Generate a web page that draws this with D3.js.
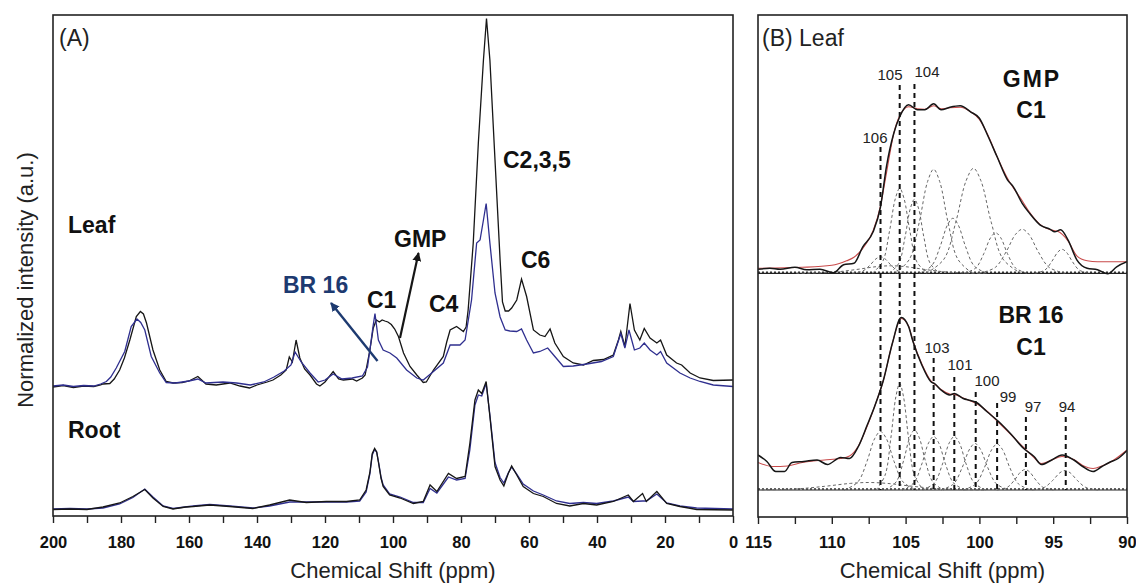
<!DOCTYPE html>
<html><head><meta charset="utf-8">
<script src="https://cdn.jsdelivr.net/npm/d3@7"></script>
<style>
body{margin:0;background:#fff;}
svg{display:block;font-family:"Liberation Sans",Arial,Helvetica,sans-serif;}
</style></head><body>
<svg id="chart" width="1136" height="584"></svg>
<script>
// ---------------- DATA ----------------
// Panel A: [ppm, intensity above own baseline]
const leafGMP = [[200,0],[197,0.3],[194,-0.1],[191,0.2],[188,0.1],[186,0.4],[185.3,0.6],[183.3,0.7],[182,1.6],[180.4,3.4],[179,5.8],[177.4,9.4],[175.5,14.1],[174.3,15.1],[173.4,14.6],[172.5,12.8],[170.6,7.4],[168.6,3.4],[166.7,1.1],[164.7,0.8],[162,0.9],[160,1.2],[157.4,2.1],[155,0.6],[152,0.4],[148,0.8],[145,0.2],[142.2,-0.2],[140,0.4],[137,1.0],[135.3,1.4],[133,2.4],[131.4,3.4],[130.5,6.0],[129.6,5.0],[128.5,9.4],[127.4,5.8],[126,3.6],[124.4,2.4],[122.5,0.6],[121.5,0.2],[120,1.0],[117.6,3.1],[116,1.6],[114.6,1.4],[112,1.6],[110.7,1.2],[109,1.8],[108.2,2.4],[106.8,7.4],[105.8,11.8],[104.9,13.4],[104,13.0],[103.2,13.4],[102.4,13.2],[101.5,13.0],[100.5,12.5],[99.5,11.6],[98.4,10.1],[96.9,6.8],[95,4.1],[93,2.4],[91.1,0.9],[90.2,1.0],[89.5,1.8],[88.1,3.4],[85.2,6.1],[84.2,9.0],[83.2,11.4],[81.3,12.1],[79.3,11.1],[78.5,12.0],[77.9,15.4],[76.4,28.8],[74.9,48.8],[73.4,65.4],[72.5,73.7],[71.5,65.4],[70,45.4],[68.5,25.4],[67.8,17],[67,15.2],[66,15.2],[65.1,15.8],[63.6,17.4],[62.2,21.6],[60.7,18.1],[58.7,11.4],[56.8,10.4],[55.3,10.1],[53.8,11.6],[52.4,8.8],[49.9,6.1],[47,4.8],[44,4.4],[41.1,5.3],[38.1,5.5],[35.2,6.4],[33.7,9.4],[33,11.1],[31.8,8.1],[30.3,16.7],[29,11.4],[27.4,9.4],[26.1,11.7],[24.4,9.8],[22.4,8.8],[21.3,9.4],[19.5,6.4],[16.6,4.8],[15.1,4.4],[12.6,2.8],[9.7,1.8],[5.8,1.3],[0,1.4]];
const leafBR16 = [[200,0.2],[197,0.4],[194,0.1],[191,0.3],[188,0.2],[186,0.6],[184.3,1.1],[183,2.0],[181.4,3.8],[178.9,7.1],[177,12.1],[175.3,13.6],[174.2,12.9],[173,11.4],[171.1,6.1],[168.6,2.8],[166.7,0.9],[164,0.8],[160,1.2],[157.4,1.6],[155,0.8],[150,1.0],[146,0.8],[142,0.4],[138,1.0],[135,2.0],[132,3.2],[130,4.4],[128.8,7.0],[127,5.0],[124.4,2.8],[122,1.0],[120,1.4],[117.6,2.6],[115,1.6],[112,1.8],[109,2.2],[107.5,4.0],[106.8,7.4],[105.9,12],[105.3,14.7],[104.3,9.4],[102.9,7.4],[100.9,6.8],[98.9,5.8],[96,3.4],[93,1.8],[91.1,1.4],[88.1,3.1],[85.2,4.8],[83.2,8.4],[80.3,8.4],[78.8,9.4],[76.9,17.4],[75.4,28.8],[74.4,29.4],[73.4,33.4],[72.6,36.7],[71.5,28.8],[70,18.8],[68.5,14],[67,11.4],[65.6,11.2],[63.6,11.1],[62.2,11.6],[60.7,9.4],[58.7,6.8],[56.8,7.1],[54.5,7.8],[52.4,6.1],[49.9,4.1],[47,4.2],[43,4.6],[38.7,5.1],[35.2,6.1],[33,10.7],[31.8,7.8],[30.6,11.4],[29,7.4],[27.4,7.8],[26.1,8.8],[24.4,7.4],[22.4,6.4],[21.3,7.1],[19.5,4.8],[15.6,2.8],[12.6,1.8],[9.7,1.1],[5.8,0.4],[0,0.1]];
const rootGMP = [[200,0.1],[195,0.2],[190,0.1],[185.3,0.6],[180.4,1.4],[176.5,2.7],[173,4.1],[170.6,2.4],[167.6,0.7],[164.7,0.2],[161,0.6],[158.8,0.7],[153.9,1.0],[148,0.7],[141.2,0.3],[136.3,1.0],[130.4,2.0],[125.5,1.5],[119.6,1.7],[113.7,1.7],[109.8,2.0],[107.9,4.0],[106.8,7.5],[106.1,11.3],[105.4,12.3],[104.8,11.6],[104.2,9.2],[103.5,6.3],[102.9,4.7],[101,3.0],[97.9,2.4],[94,1.3],[91.1,1.7],[89.1,5.0],[87.1,3.7],[83.7,7.3],[81.3,6.3],[78.8,6.7],[77.4,13.3],[75.9,22],[74.9,24],[73.9,23.3],[72.6,25.7],[71.5,18.7],[70,8.7],[68.5,6.0],[67.4,4.8],[66.1,7.3],[65.1,8.8],[63.6,7.0],[61.7,4.7],[58.7,3.3],[55.8,2.7],[51.9,1.3],[48,0.8],[44,1.3],[40.1,1.0],[35.2,1.7],[30.8,3.0],[29.3,1.7],[26.6,3.3],[25.5,1.7],[22.4,3.7],[19.5,1.3],[15.6,0.7],[10.7,0.1],[0,0]];
const rootBR16 = [[200,0.2],[195,0.3],[190,0.2],[185.3,0.4],[180.4,1.2],[176.5,2.5],[173,4.2],[170.6,2.6],[167.6,0.8],[164.7,0.3],[158.8,0.8],[153.9,1.1],[148,0.8],[141.2,0.4],[136.3,0.8],[130.4,1.6],[125.5,1.6],[119.6,1.6],[113.7,1.6],[109.8,1.8],[107.9,3.6],[106.8,7.2],[106.1,11.0],[105.4,12.1],[104.8,11.6],[104.2,9.4],[103.5,6.5],[102.9,5.0],[101,3.2],[97.9,2.6],[94,1.5],[91.1,1.5],[89.1,4.3],[87.1,3.4],[83.7,6.6],[81.3,6.0],[78.8,6.3],[77.4,12],[75.9,21],[74.9,23],[73.9,22.8],[72.6,25.3],[71.5,19],[70,9.5],[68.5,6.5],[67.4,5.4],[66.1,7.4],[65.1,8.6],[63.6,7.2],[61.7,5.2],[58.7,3.8],[55.8,3.0],[51.9,1.8],[48,1.3],[44,1.5],[40.1,1.3],[35.2,1.8],[30.8,2.6],[29.3,1.7],[26.6,1.8],[25.5,1.8],[22.4,3.2],[19.5,1.4],[15.6,0.8],[10.7,0.4],[0,0.2]];

// Panel B: C1 region, [ppm, intensity above sub-panel baseline]
const gmpC1Exp = [[115,0.8],[114.2,1.0],[113.5,0.8],[112.5,1.2],[111.7,0.7],[110.8,0.8],[109.9,0.1],[109.2,1.7],[108.5,2.0],[107.9,5.3],[107.2,8.3],[106.7,13.3],[106.3,21.3],[105.8,28],[105.4,31.3],[104.8,33.7],[104.2,32.7],[103.7,32.7],[103.1,33.9],[102.6,32.7],[102,33.2],[101.3,33.5],[100.6,32.3],[100,31],[99.4,27.3],[98.8,23.3],[98.1,18.7],[97.7,17.3],[97.1,14],[96.6,12],[95.9,9.7],[95.2,8.8],[94.9,8.3],[94.5,8.7],[94,6.7],[93.4,2.7],[92.7,1.0],[92,0.7],[91.3,-0.1],[90.7,1.3],[90,2.3]];
const gmpC1Fit = [[115,1.0],[112,1.2],[110,1.6],[109,2.5],[108.5,3.2],[107.9,5],[107.2,8.5],[106.7,13.5],[106.3,20],[105.8,28],[105.4,31.5],[104.8,33.3],[104.2,32.9],[103.7,32.8],[103.1,33.5],[102.6,32.9],[102,33.1],[101.3,33.2],[100.6,32.3],[100,30.8],[99.4,27.5],[98.8,23.3],[98.1,19],[97.1,14.5],[96.6,12.2],[95.9,9.8],[95.2,8.7],[94.7,8.4],[94,6.5],[93.4,3.5],[92.7,2.5],[92,2.3],[90,2.3]];
const gmpC1Components = [
  [[108.62,107.9,107.42,107.0,106.7,106.4,105.98,105.5,104.78],[0,0.45,1.61,2.91,3.3,2.91,1.61,0.45,0]],
  [[107.26,106.56,106.1,105.69,105.4,105.11,104.7,104.24,103.54],[0,2.3,8.28,15.0,17,15.0,8.28,2.3,0]],
  [[106.1,105.46,105.04,104.67,104.4,104.13,103.76,103.34,102.7],[0,2.0,7.21,13.05,14.8,13.05,7.21,2.0,0]],
  [[105.72,104.74,104.08,103.51,103.1,102.69,102.12,101.46,100.48],[0,2.81,10.13,18.35,20.8,18.35,10.13,2.81,0]],
  [[104.1,103.24,102.66,102.16,101.8,101.44,100.94,100.36,99.5],[0,1.49,5.36,9.7,11,9.7,5.36,1.49,0]],
  [[103.6,102.4,101.6,100.9,100.4,99.9,99.2,98.4,97.2],[0,2.84,10.23,18.52,21,18.52,10.23,2.84,0]],
  [[101.04,100.24,99.7,99.24,98.9,98.56,98.1,97.56,96.76],[0,1.09,3.94,7.14,8.1,7.14,3.94,1.09,0]],
  [[100.01,98.92,98.19,97.56,97.1,96.64,96.01,95.28,94.19],[0,1.19,4.29,7.76,8.8,7.76,4.29,1.19,0]],
  [[96.26,95.56,95.1,94.69,94.4,94.11,93.7,93.24,92.54],[0,0.65,2.34,4.23,4.8,4.23,2.34,0.65,0]],
  [[112.4,110,108.4,107,106,105,103.6,102,99.6],[0,0.2,0.73,1.32,1.5,1.32,0.73,0.2,0]]
];
const br16C1Exp = [[115,7],[114.4,5.7],[113.8,3.7],[113.2,3.7],[112.7,5.5],[111.9,5.7],[111,6],[110.3,5.1],[109.4,6.5],[108.8,6.3],[108.2,8.7],[107.6,13],[107.1,16.7],[106.5,22],[105.9,29.3],[105.3,34.5],[104.8,32.7],[104.5,29.7],[103.9,25],[103.3,21.7],[103,21.2],[102.6,20],[102,19],[101.7,19.3],[101.1,18.3],[100.6,17.9],[100.2,17.5],[99.5,15.7],[98.7,13.7],[97.9,11.3],[97,8.3],[96.3,6.7],[95.8,5.1],[95.1,6],[94.4,7],[93.6,6],[93,4.7],[92.3,3.7],[91.7,4.7],[91.2,5.5],[90.6,6.3],[90,7.9]];
const br16C1Fit = [[115,5.5],[114,4.7],[113,4.8],[112,5.5],[110.5,6.0],[109.4,6.3],[108.8,6.8],[108.2,8.8],[107.6,12.8],[107.1,16.7],[106.5,22],[105.9,29.3],[105.3,34.3],[104.8,32.8],[104.5,29.8],[103.9,25.2],[103.3,21.9],[103,21.1],[102.6,20.1],[102,19.2],[101.7,19.1],[101.1,18.4],[100.6,17.8],[100.2,17.3],[99.5,15.8],[98.7,13.5],[97.9,11.2],[97,8.5],[96.3,6.5],[95.8,5.3],[95.1,6.0],[94.4,6.7],[93.6,6.1],[93,4.9],[92.3,4.3],[91.7,4.8],[91,5.8],[90,8.0]];
const br16C1Components = [
  [[109.16,108.24,107.62,107.09,106.7,106.31,105.78,105.16,104.24],[0,1.58,5.7,10.32,11.7,10.32,5.7,1.58,0]],
  [[107.0,106.4,106.0,105.65,105.4,105.15,104.8,104.4,103.8],[0,2.88,10.37,18.79,21.3,18.79,10.37,2.88,0]],
  [[106.38,105.64,105.14,104.71,104.4,104.09,103.66,103.16,102.42],[0,1.62,5.84,10.58,12,10.58,5.84,1.62,0]],
  [[105.24,104.44,103.9,103.44,103.1,102.76,102.3,101.76,100.96],[0,1.44,5.21,9.44,10.7,9.44,5.21,1.44,0]],
  [[103.84,103.04,102.5,102.04,101.7,101.36,100.9,100.36,99.56],[0,1.44,5.21,9.44,10.7,9.44,5.21,1.44,0]],
  [[102.6,101.74,101.16,100.66,100.3,99.94,99.44,98.86,98.0],[0,1.26,4.53,8.2,9.3,8.2,4.53,1.26,0]],
  [[101.1,100.24,99.66,99.16,98.8,98.44,97.94,97.36,96.5],[0,1.24,4.48,8.11,9.2,8.11,4.48,1.24,0]],
  [[98.82,98.1,97.62,97.2,96.9,96.6,96.18,95.7,94.98],[0,0.55,2.0,3.62,4.1,3.62,2.0,0.55,0]],
  [[96.44,95.6,95.04,94.55,94.2,93.85,93.36,92.8,91.96],[0,0.53,1.9,3.44,3.9,3.44,1.9,0.53,0]],
  [[115.5,112.5,110.5,108.75,107.5,106.25,104.5,102.5,99.5],[0,0.2,0.73,1.32,1.5,1.32,0.73,0.2,0]]
];
// marker positions (ppm) and their labels
const gmpMarkers = [106.7, 105.4, 104.4];
const gmpMarkerLabels = ["106", "105", "104"];
const br16Markers = [103.1, 101.7, 100.25, 98.8, 96.85, 94.15];
const br16MarkerLabels = ["103", "101", "100", "99", "97", "94"];
// axis ticks
const ticksA = d3.range(0, 201, 10);
const labelsA = [0, 20, 40, 60, 80, 100, 120, 140, 160, 180, 200];
const ticksB = d3.range(90, 115.01, 2.5);
const labelsB = [90, 95, 100, 105, 110, 115];

// ---------------- LAYOUT ----------------
const svg = d3.select("#chart");
const FONT = '"Liberation Sans",Arial,Helvetica,sans-serif';
const BLACK = "#161616", BLUE = "#2f2f8f", NAVY = "#1d3a70", RED = "#c84a4a";

const A = {l: 53, r: 733, t: 15, b: 516};
const B = {l: 758, r: 1127, t: 15, b: 517};

const xA = d3.scaleLinear().domain([200, 0]).range([A.l, A.r]);
const yA = d3.scaleLinear().domain([0, 100]).range([516, 16]);
const xB = d3.scaleLinear().domain([115, 90]).range([B.l, B.r]);
const yB = d3.scaleLinear().domain([0, 100]).range([517, 17]);

const leafOffset = 25.8, rootOffset = 1.2;
const topOffset = 48.74, botOffset = 5.4;

const defs = svg.append("defs");
defs.append("clipPath").attr("id", "clipA").append("rect")
  .attr("x", A.l).attr("y", A.t).attr("width", A.r - A.l).attr("height", A.b - A.t);
defs.append("clipPath").attr("id", "clipB").append("rect")
  .attr("x", B.l).attr("y", B.t).attr("width", B.r - B.l).attr("height", B.b - B.t);
function marker(id, color) {
  defs.append("marker").attr("id", id).attr("viewBox", "0 0 10 10")
    .attr("refX", 9).attr("refY", 5).attr("markerWidth", 9).attr("markerHeight", 9)
    .attr("markerUnits", "userSpaceOnUse").attr("orient", "auto")
    .append("path").attr("d", "M0,0 L10,5 L0,10 z").attr("fill", color);
}
marker("arrBlack", BLACK);
marker("arrNavy", NAVY);

// ---------------- PANEL A ----------------
const gA = svg.append("g").attr("clip-path", "url(#clipA)");
function lineA(off) {
  return d3.line().x(d => xA(d[0])).y(d => yA(d[1] + off)).curve(d3.curveLinear);
}
gA.append("path").datum(rootBR16).attr("d", lineA(rootOffset)).attr("fill", "none").attr("stroke", BLUE).attr("stroke-width", 1.3);
gA.append("path").datum(rootGMP).attr("d", lineA(rootOffset)).attr("fill", "none").attr("stroke", BLACK).attr("stroke-width", 1.3);
gA.append("path").datum(leafGMP).attr("d", lineA(leafOffset)).attr("fill", "none").attr("stroke", BLACK).attr("stroke-width", 1.3);
gA.append("path").datum(leafBR16).attr("d", lineA(leafOffset)).attr("fill", "none").attr("stroke", BLUE).attr("stroke-width", 1.3);

svg.append("rect").attr("x", A.l).attr("y", A.t).attr("width", A.r - A.l).attr("height", A.b - A.t)
  .attr("fill", "none").attr("stroke", "#222").attr("stroke-width", 1.6);

const axA = svg.append("g").attr("transform", `translate(0,${A.b})`)
  .call(d3.axisBottom(xA).tickValues(ticksA).tickSize(7).tickPadding(13)
    .tickFormat(d => labelsA.includes(d) ? d : ""));
axA.select(".domain").remove();
axA.selectAll(".tick line").attr("stroke", "#222").attr("stroke-width", 1.4);
axA.selectAll("text").attr("font-family", FONT).attr("font-size", 16.5).attr("font-weight", "bold").attr("fill", "#111");

svg.append("text").attr("x", (A.l + A.r) / 2).attr("y", 578).attr("text-anchor", "middle")
  .attr("font-size", 22).attr("fill", "#222").text("Chemical Shift (ppm)");
svg.append("text").attr("transform", "translate(33,280) rotate(-90)").attr("text-anchor", "middle")
  .attr("font-size", 22).attr("fill", "#222").text("Normalized intensity (a.u.)");

svg.append("text").attr("x", 59).attr("y", 46).attr("font-size", 23).attr("fill", "#222").text("(A)");
const boldA = [["Leaf", 68, 233], ["Root", 68, 438], ["C1", 367, 308], ["GMP", 394, 247], ["C4", 429, 311.5], ["C2,3,5", 503, 168], ["C6", 521, 268]];
boldA.forEach(t => svg.append("text").attr("x", t[1]).attr("y", t[2]).attr("font-size", 23)
  .attr("font-weight", "bold").attr("fill", "#111").text(t[0]));
svg.append("text").attr("x", 283).attr("y", 293).attr("font-size", 23).attr("font-weight", "bold")
  .attr("fill", NAVY).text("BR 16");

svg.append("line").attr("x1", 377.5).attr("y1", 361).attr("x2", 331).attr("y2", 303)
  .attr("stroke", NAVY).attr("stroke-width", 2.4).attr("marker-end", "url(#arrNavy)");
svg.append("line").attr("x1", 400).attr("y1", 338).attr("x2", 418.5).attr("y2", 253)
  .attr("stroke", BLACK).attr("stroke-width", 2.2).attr("marker-end", "url(#arrBlack)");

// ---------------- PANEL B ----------------
const gB = svg.append("g").attr("clip-path", "url(#clipB)");
function compLine(off) {
  return d3.line().x(d => xB(d[0])).y(d => yB(d[1] + off)).curve(d3.curveCatmullRom);
}
function smoothLine(off) {
  return d3.line().x(d => xB(d[0])).y(d => yB(d[1] + off)).curve(d3.curveMonotoneX);
}
function drawSub(exp, fit, comps, off) {
  gB.append("line").attr("x1", B.l).attr("x2", B.r).attr("y1", yB(off)).attr("y2", yB(off))
    .attr("stroke", "#222").attr("stroke-width", 1.2);
  gB.append("line").attr("x1", B.l).attr("x2", B.r).attr("y1", yB(off) - 1).attr("y2", yB(off) - 1)
    .attr("stroke", "#333").attr("stroke-width", 1.6).attr("stroke-dasharray", "2,2");
  comps.forEach(c => {
    const pts = c[0].map((p, i) => [p, c[1][i]]);
    gB.append("path").datum(pts).attr("d", compLine(off)).attr("fill", "none")
      .attr("stroke", "#666").attr("stroke-width", 1).attr("stroke-dasharray", "3,2.5");
  });
  gB.append("path").datum(fit).attr("d", smoothLine(off))
    .attr("fill", "none").attr("stroke", RED).attr("stroke-width", 1.1);
  gB.append("path").datum(exp).attr("d", smoothLine(off))
    .attr("fill", "none").attr("stroke", BLACK).attr("stroke-width", 1.5);
}
drawSub(gmpC1Exp, gmpC1Fit, gmpC1Components, topOffset);
drawSub(br16C1Exp, br16C1Fit, br16C1Components, botOffset);

// vertical dashed marker lines
const gmpStart = [147, 85, 84];
gmpMarkers.forEach((m, i) => {
  svg.append("line").attr("x1", xB(m)).attr("x2", xB(m)).attr("y1", gmpStart[i]).attr("y2", yB(botOffset))
    .attr("stroke", "#111").attr("stroke-width", 2).attr("stroke-dasharray", "5,4");
});
const br16Start = [358, 377, 392, 403, 417, 417];
br16Markers.forEach((m, i) => {
  svg.append("line").attr("x1", xB(m)).attr("x2", xB(m)).attr("y1", br16Start[i]).attr("y2", yB(botOffset))
    .attr("stroke", "#111").attr("stroke-width", 2).attr("stroke-dasharray", "5,4");
});
const gmpLabelPos = [[875, 143], [890, 80], [927, 77]];
gmpMarkerLabels.forEach((t, i) => svg.append("text").attr("x", gmpLabelPos[i][0]).attr("y", gmpLabelPos[i][1])
  .attr("text-anchor", "middle").attr("font-size", 15).attr("fill", "#222").text(t));
const br16LabelPos = [[937, 353], [960, 370], [987, 386], [1008, 401.5], [1033, 411.5], [1067, 411.5]];
br16MarkerLabels.forEach((t, i) => svg.append("text").attr("x", br16LabelPos[i][0]).attr("y", br16LabelPos[i][1])
  .attr("text-anchor", "middle").attr("font-size", 15).attr("fill", "#222").text(t));

svg.append("rect").attr("x", B.l).attr("y", B.t).attr("width", B.r - B.l).attr("height", B.b - B.t)
  .attr("fill", "none").attr("stroke", "#222").attr("stroke-width", 1.6);

const axB = svg.append("g").attr("transform", `translate(0,${B.b})`)
  .call(d3.axisBottom(xB).tickValues(ticksB).tickSize(7).tickPadding(12)
    .tickFormat(d => labelsB.includes(d) ? d : ""));
axB.select(".domain").remove();
axB.selectAll(".tick line").attr("stroke", "#222").attr("stroke-width", 1.4);
axB.selectAll("text").attr("font-family", FONT).attr("font-size", 16.5).attr("font-weight", "bold").attr("fill", "#111");

svg.append("text").attr("x", (B.l + B.r) / 2).attr("y", 578).attr("text-anchor", "middle")
  .attr("font-size", 22).attr("fill", "#222").text("Chemical Shift (ppm)");
svg.append("text").attr("x", 762).attr("y", 46).attr("font-size", 23).attr("fill", "#222").text("(B) Leaf");

const boldB = [["GMP", 1031, 87, 2], ["C1", 1031, 118, 0], ["BR 16", 1031, 323, 0], ["C1", 1031, 355, 0]];
boldB.forEach(t => svg.append("text").attr("x", t[1] + t[3] / 2).attr("y", t[2]).attr("text-anchor", "middle")
  .attr("font-size", 23).attr("font-weight", "bold").attr("letter-spacing", t[3]).attr("fill", "#111").text(t[0]));
</script>
</body></html>
